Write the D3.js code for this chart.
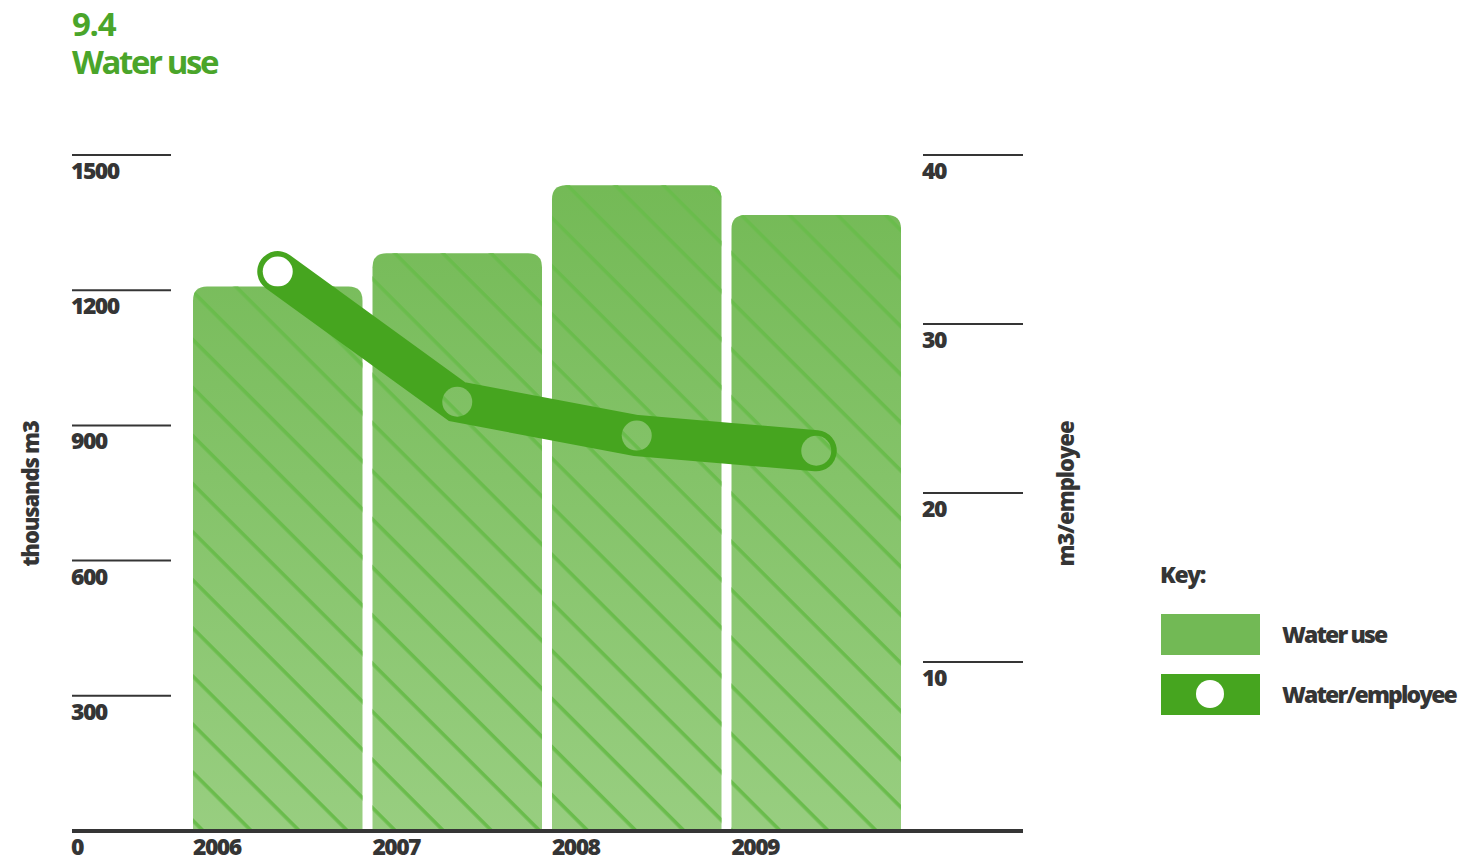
<!DOCTYPE html>
<html>
<head>
<meta charset="utf-8">
<script src="https://cdn.jsdelivr.net/npm/d3@7"></script>
<style>
  html, body { margin: 0; padding: 0; background: #ffffff; }
  svg { display: block; }
  text { font-family: "Open Sans", "DejaVu Sans", sans-serif; font-weight: 800; }
  text.title { font-weight: 700; }
</style>
</head>
<body>
<svg id="chart" width="1479" height="861"></svg>
<script>
// Water use by year (thousands m3) and water per employee (m3)
const years = ["2006", "2007", "2008", "2009"];
const waterUse = [1208, 1282, 1433, 1367];
const waterPerEmployee = [33.1, 25.4, 23.4, 22.5];
const leftTicks = [300, 600, 900, 1200, 1500];
const rightTicks = [10, 20, 30, 40];

const ink = "#353535";
const darkGreen = "#46a51f";
const barGreen = "#72b955";

const svg = d3.select("#chart");
const defs = svg.append("defs");

const baseY = 831;
const topY = 155;

const x = d3.scaleBand().domain(years).range([193, 901]).paddingInner(0.0557).paddingOuter(0);
const yLeft = d3.scaleLinear().domain([0, 1500]).range([baseY, topY]);
const yRight = d3.scaleLinear().domain([0, 40]).range([baseY, topY]);

// vertical gradient across the plot: darker at the top, lighter near the baseline
const grad = defs.append("linearGradient")
  .attr("id", "barFill").attr("gradientUnits", "userSpaceOnUse")
  .attr("x1", 0).attr("y1", topY).attr("x2", 0).attr("y2", baseY);
grad.append("stop").attr("offset", 0).attr("stop-color", "#72b954");
grad.append("stop").attr("offset", 1).attr("stop-color", "#98ce80");

// diagonal hatching running down to the right
const hatch = defs.append("pattern")
  .attr("id", "hatch").attr("patternUnits", "userSpaceOnUse")
  .attr("width", 34).attr("height", 34)
  .attr("patternTransform", "rotate(45)");
hatch.append("rect").attr("x", 0).attr("y", 0).attr("width", 34).attr("height", 3.6)
  .attr("fill", "#6abc4c");

// two-line title
const title = svg.append("text").attr("class", "title").attr("fill", "#4aa52a").attr("font-size", 33);
title.append("tspan").attr("x", 72).attr("y", 36).attr("letter-spacing", -1.3).text("9.4");
title.append("tspan").attr("x", 72).attr("y", 74).attr("letter-spacing", -2.4).text("Water use");

// bars with rounded top corners
const r = 14;
function barPath(x0, w, yTop, yBot) {
  return `M${x0},${yBot}V${yTop + r}Q${x0},${yTop} ${x0 + r},${yTop}H${x0 + w - r}Q${x0 + w},${yTop} ${x0 + w},${yTop + r}V${yBot}Z`;
}
const bars = svg.append("g");
years.forEach((yr, i) => {
  const d = barPath(x(yr), x.bandwidth(), yLeft(waterUse[i]), baseY);
  bars.append("path").attr("d", d).attr("fill", "url(#barFill)");
  bars.append("path").attr("d", d).attr("fill", "url(#hatch)");
});

// left axis ticks
const leftAxis = svg.append("g");
leftTicks.forEach(t => {
  leftAxis.append("line").attr("x1", 72).attr("x2", 171)
    .attr("y1", yLeft(t)).attr("y2", yLeft(t))
    .attr("stroke", ink).attr("stroke-width", 2);
  leftAxis.append("text").attr("x", 71).attr("y", yLeft(t) + 24)
    .attr("fill", ink).attr("font-size", 23).attr("letter-spacing", -1.6).text(t);
});

// right axis ticks
const rightAxis = svg.append("g");
rightTicks.forEach(t => {
  rightAxis.append("line").attr("x1", 923).attr("x2", 1023)
    .attr("y1", yRight(t)).attr("y2", yRight(t))
    .attr("stroke", ink).attr("stroke-width", 2);
  rightAxis.append("text").attr("x", 922).attr("y", yRight(t) + 24)
    .attr("fill", ink).attr("font-size", 23).attr("letter-spacing", -1.6).text(t);
});

// baseline and category labels
svg.append("line").attr("x1", 72).attr("x2", 1023).attr("y1", baseY).attr("y2", baseY)
  .attr("stroke", ink).attr("stroke-width", 4);
svg.append("text").attr("x", 71).attr("y", 855).attr("fill", ink)
  .attr("font-size", 23).attr("letter-spacing", -1.6).text("0");
years.forEach(yr => {
  svg.append("text").attr("x", x(yr)).attr("y", 855).attr("fill", ink)
    .attr("font-size", 23).attr("letter-spacing", -1.6).text(yr);
});

// axis titles
svg.append("text").attr("transform", "translate(39,494) rotate(-90)")
  .attr("text-anchor", "middle").attr("fill", ink).attr("font-size", 22)
  .attr("letter-spacing", -1.2).text("thousands m3");
svg.append("text").attr("transform", "translate(1074,494) rotate(-90)")
  .attr("text-anchor", "middle").attr("fill", ink).attr("font-size", 22)
  .attr("letter-spacing", -1).text("m3/employee");

// per-employee line, with markers punched out as holes
const pts = years.map((yr, i) => [x(yr) + x.bandwidth() / 2, yRight(waterPerEmployee[i])]);
const mask = defs.append("mask").attr("id", "holes").attr("maskUnits", "userSpaceOnUse")
  .attr("x", 0).attr("y", 0).attr("width", 1479).attr("height", 861);
mask.append("rect").attr("width", 1479).attr("height", 861).attr("fill", "#fff");
pts.forEach(p => mask.append("circle").attr("cx", p[0]).attr("cy", p[1]).attr("r", 15).attr("fill", "#000"));

svg.append("path")
  .attr("d", d3.line()(pts))
  .attr("fill", "none").attr("stroke", darkGreen).attr("stroke-width", 41)
  .attr("stroke-linecap", "round").attr("stroke-linejoin", "miter")
  .attr("mask", "url(#holes)");

// legend
const legend = svg.append("g");
legend.append("text").attr("x", 1160).attr("y", 583).attr("fill", ink)
  .attr("font-size", 23).attr("letter-spacing", -1.4).text("Key:");
legend.append("rect").attr("x", 1161).attr("y", 614).attr("width", 99).attr("height", 41).attr("fill", barGreen);
legend.append("rect").attr("x", 1161).attr("y", 674).attr("width", 99).attr("height", 41).attr("fill", darkGreen);
legend.append("circle").attr("cx", 1210).attr("cy", 694).attr("r", 14).attr("fill", "#fff");
legend.append("text").attr("x", 1282).attr("y", 643).attr("fill", ink)
  .attr("font-size", 23).attr("letter-spacing", -1.9).text("Water use");
legend.append("text").attr("x", 1282).attr("y", 703).attr("fill", ink)
  .attr("font-size", 23).attr("letter-spacing", -1.9).text("Water/employee");
</script>
</body>
</html>
